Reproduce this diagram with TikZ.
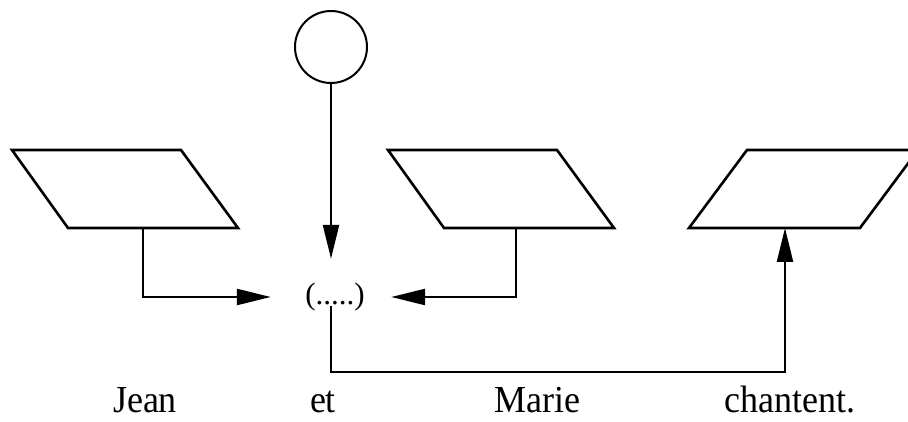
\documentclass[tikz,border=0pt]{standalone}
\usepackage{fontspec}
\setmainfont{Liberation Serif}
\usetikzlibrary{arrows.meta}
\newcommand{\tallw}[1]{\scalebox{1}[1.06]{#1}}
\begin{document}
\begin{tikzpicture}[x=1pt,y=-1pt,line width=2.4pt,
  conn/.style={line width=2.4pt,-{Triangle[length=34pt,width=16pt]}},
  para/.style={line width=2.6pt,line join=miter},
  word/.style={anchor=base,inner sep=0pt,font=\fontsize{36}{40}\selectfont}]
\useasboundingbox (0,0) rectangle (908,422);
\clip (0,0) rectangle (908,422);
% parallelograms
\draw[para] (12,150) -- (181,150) -- (238,228) -- (68,228) -- cycle;
\draw[para] (388,150) -- (557,150) -- (614,228) -- (444,228) -- cycle;
\draw[para] (747,150) -- (918,150) -- (860,228) -- (689,228) -- cycle;
\coordinate (p1) at (143,228);
\coordinate (p2) at (516,228);
\coordinate (p3) at (785,228);
% circle and dots
\node[draw,circle,line width=2pt,minimum size=72pt,inner sep=0pt] (circ) at (331,47) {};
\node[minimum width=118pt,minimum height=74pt,inner sep=0pt,font=\fontsize{31}{34}\selectfont] (dots) at (331,297) {\hspace*{8pt}\raisebox{-12pt}{(.....)}};
\coordinate (ds) at (331,306);
\draw[conn] (circ) -- (dots.north);
\draw[conn] (p1) |- (dots.west);
\draw[conn] (p2) |- (dots.east);
\draw[conn] (ds) -- (331,372) -| (p3);
% words
\node[word] (jean) at (145,412) {\tallw{Jean}};
\node[word] (et) at (323,412) {\tallw{et}};
\node[word] (marie) at (537,412) {\tallw{Marie}};
\node[word] (chantent) at (790,412) {\tallw{chantent.}};
\end{tikzpicture}
\end{document}
